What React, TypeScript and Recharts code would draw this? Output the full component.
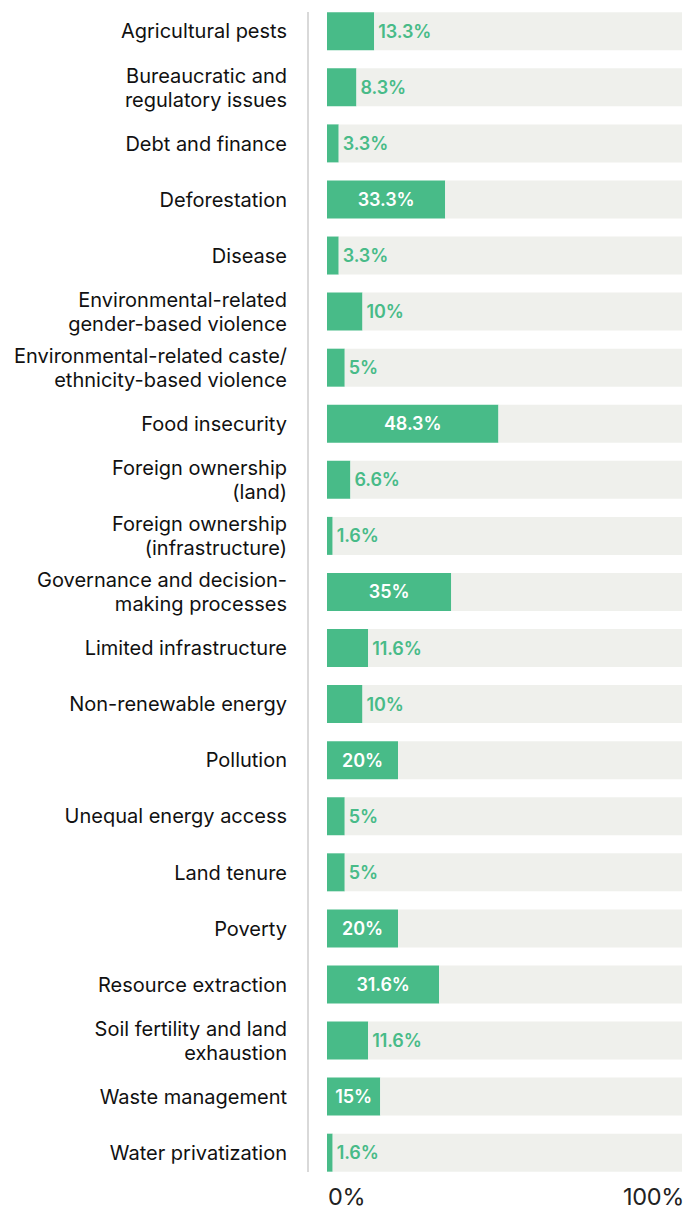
import React from 'react';
import { BarChart, Bar, XAxis, YAxis, ReferenceLine, LabelList } from 'recharts';

const categories = [
  'Agricultural pests',
  'Bureaucratic and\nregulatory issues',
  'Debt and finance',
  'Deforestation',
  'Disease',
  'Environmental-related\ngender-based violence',
  'Environmental-related caste/\nethnicity-based violence',
  'Food insecurity',
  'Foreign ownership\n(land)',
  'Foreign ownership\n(infrastructure)',
  'Governance and decision-\nmaking processes',
  'Limited infrastructure',
  'Non-renewable energy',
  'Pollution',
  'Unequal energy access',
  'Land tenure',
  'Poverty',
  'Resource extraction',
  'Soil fertility and land\nexhaustion',
  'Waste management',
  'Water privatization',
];

const values = [13.3, 8.3, 3.3, 33.3, 3.3, 10, 5, 48.3, 6.6, 1.6, 35, 11.6, 10, 20, 5, 5, 20, 31.6, 11.6, 15, 1.6];

const xTicks = [0, 100];

const GREEN = '#48bb88';
const TRACK = '#eff0ec';
const FONT = 'Inter, "Noto Sans", sans-serif';

const data = categories.map((name, i) => ({ name, value: values[i], rest: 100 - values[i] }));

const YTick = (props: any) => {
  const { x, y, payload } = props;
  const lines = String(payload.value).split('\n');
  const lh = 24;
  const fs = 20;
  const first = y - ((lines.length - 1) * lh) / 2;
  return (
    <g>
      {lines.map((l, i) => (
        <text
          key={i}
          x={x}
          y={first + i * lh + fs * 0.36}
          textAnchor="end"
          fontSize={fs}
          fontFamily={FONT}
          fill="#111"
          letterSpacing={0}
        >
          {l}
        </text>
      ))}
    </g>
  );
};

const XTick = (props: any) => {
  const { x, y, payload } = props;
  const anchor = payload.value === 0 ? 'start' : 'end';
  const dx = payload.value === 0 ? 1 : 2;
  return (
    <text x={x + dx} y={y + 25} textAnchor={anchor} fontSize={23.5} fontFamily={FONT} fill="#222" letterSpacing={-0.3}>
      {`${payload.value}%`}
    </text>
  );
};

const ValueLabel = (props: any) => {
  const { x, y, width, height, value } = props;
  const inside = value >= 15;
  const fs = 18;
  const cy = y + height / 2 + fs * 0.36;
  if (inside) {
    return (
      <text x={x + width / 2} y={cy} textAnchor="middle" fontSize={fs} fontWeight={600} fontFamily={FONT} fill="#fff" letterSpacing={-0.1}>
        {`${value}%`}
      </text>
    );
  }
  return (
    <text x={x + width + 4} y={cy} textAnchor="start" fontSize={fs} fontWeight={600} fontFamily={FONT} fill={GREEN} letterSpacing={-0.1}>
      {`${value}%`}
    </text>
  );
};

export default function App() {
  return (
    <div style={{ position: 'absolute', left: 0, top: 0, width: 686, height: 1210, background: '#fff' }}>
      <BarChart
        width={686}
        height={1210}
        data={data}
        layout="vertical"
        margin={{ top: 12, right: 4, bottom: 0, left: 0 }}
        barSize={38}
      >
        <XAxis
          type="number"
          domain={[-5.352, 100]}
          ticks={xTicks}
          axisLine={false}
          tickLine={false}
          height={38}
          tick={<XTick />}
          interval={0}
        />
        <YAxis
          type="category"
          dataKey="name"
          width={308}
          axisLine={false}
          tickLine={false}
          tickSize={0}
          tickMargin={21}
          padding={{ top: -8.75, bottom: -8.75 }}
          tick={<YTick />}
          interval={0}
        />
        <ReferenceLine x={-5.352} stroke="#d9d9d9" strokeWidth={2} ifOverflow="visible" />
        <Bar dataKey="value" stackId="a" fill={GREEN} isAnimationActive={false}>
          <LabelList dataKey="value" content={<ValueLabel />} />
        </Bar>
        <Bar dataKey="rest" stackId="a" fill={TRACK} isAnimationActive={false} />
      </BarChart>
    </div>
  );
}
